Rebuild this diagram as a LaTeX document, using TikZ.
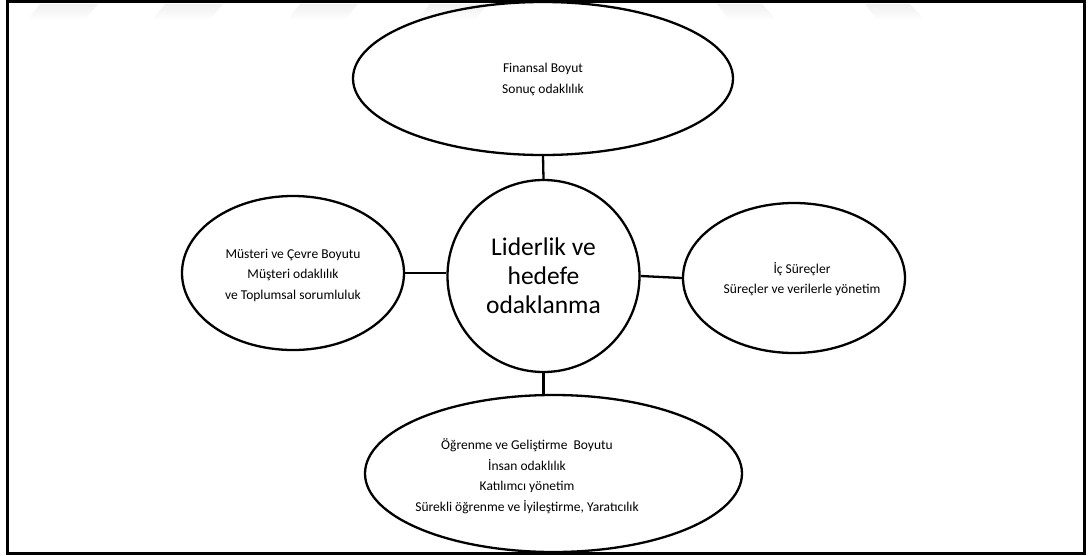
\documentclass[tikz,border=0pt]{standalone}
\usepackage{fontspec}
\setmainfont{Carlito}
\usetikzlibrary{shapes.geometric}
\begin{document}
\begin{tikzpicture}[x=1pt,y=-1pt,
  bubble/.style={ellipse, draw, line width=2.3pt, inner sep=0pt},
  hub/.style={circle, draw, line width=2.3pt, inner sep=0pt, minimum size=192pt},
  txt/.style={align=center, inner sep=0pt, font=\fontsize{13.5}{20.5}\selectfont},
  bigtxt/.style={align=center, inner sep=0pt, font=\fontsize{25.5}{29}\selectfont},
  link/.style={line width=2.3pt},
  mark band/.style={top color=black!6, bottom color=white, draw=none}]
\useasboundingbox (0,0) rectangle (1088,555);

% faint bands along the upper edge
\foreach \a in {40,165,300,430} {
  \shade[mark band] (\a,4) -- (\a+58,4) -- (\a+45,20) -- (\a-13,20) -- cycle;
}
\foreach \a in {717,865} {
  \shade[mark band] (\a,4) -- (\a+45,4) -- (\a+60,20) -- (\a+12,20) -- cycle;
}

% outer frame
\draw[line width=3pt] (7,1.5) rectangle (1084,553);

% centre and the four dimensions
\node[hub] (core) at (543.5,276) {};
\node[bubble, minimum width=380pt, minimum height=153pt] (fin) at (543,78.5) {};
\node[bubble, minimum width=222pt, minimum height=154pt] (cust) at (293,273) {};
\node[bubble, minimum width=222pt, minimum height=150pt] (proc) at (794,278) {};
\node[bubble, minimum width=377pt, minimum height=157pt] (learn) at (553.5,473.5) {};

% texts
\node[bigtxt] (coretxt) at (543.5,276) {Liderlik ve\\hedefe\\odaklanma};
\node[txt] (fintxt) at (543,79.5) {Finansal Boyut\\Sonuç odaklılık};
\node[txt] (custtxt) at (293,275) {Müsteri ve Çevre Boyutu\\Müşteri odaklılık\\ve Toplumsal sorumluluk};
\node[txt] (proctxt) at (802,279) {İç Süreçler\\Süreçler ve verilerle yönetim};
\node[txt] (learntxt) at (527,476) {Öğrenme ve Geliştirme~ Boyutu\\İnsan odaklılık\\Katılımcı yönetim\\Sürekli öğrenme ve İyileştirme, Yaratıcılık};

% connectors
\draw[link] (fin.south) -- (core.north);
\draw[link] (cust.east) -- (cust.east -| core.west);
\draw[link] (core.east) -- (proc.west);
\draw[link] (core.south) -- (core.south |- learn.north);
\end{tikzpicture}
\end{document}
